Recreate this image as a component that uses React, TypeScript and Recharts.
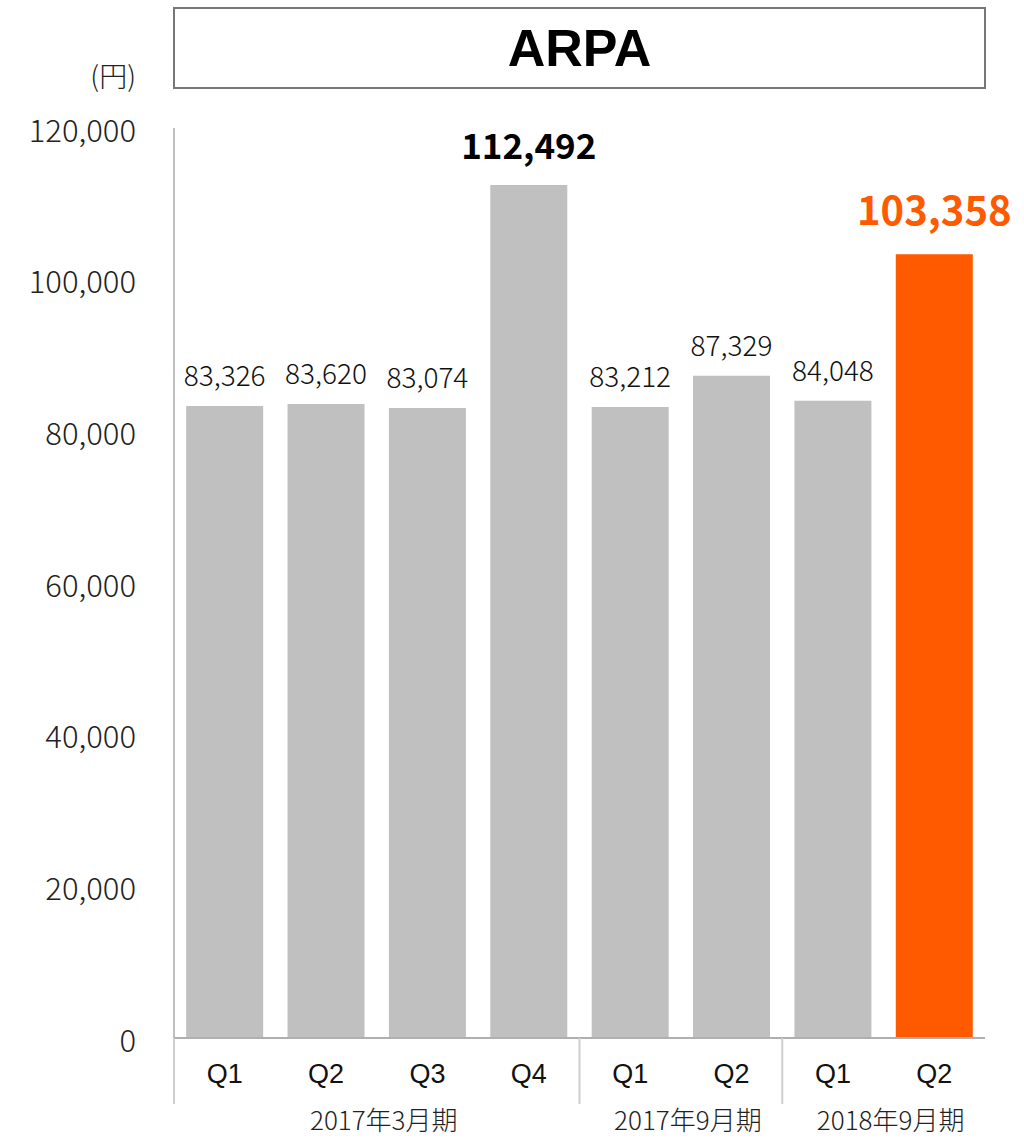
import React from 'react'
import { BarChart, Bar, XAxis, YAxis, Cell, LabelList } from 'recharts'

const quarters = ['Q1', 'Q2', 'Q3', 'Q4', 'Q1', 'Q2', 'Q1', 'Q2']
const periods = [
  '2017年3月期',
  '2017年3月期',
  '2017年3月期',
  '2017年3月期',
  '2017年9月期',
  '2017年9月期',
  '2018年9月期',
  '2018年9月期',
]
const arpa = [83326, 83620, 83074, 112492, 83212, 87329, 84048, 103358]
const yTicks = [0, 20000, 40000, 60000, 80000, 100000, 120000]

const data = quarters.map((q, i) => ({ q, period: periods[i], v: arpa[i] }))

const W = 1024
const H = 1138
const PLOT_LEFT = 174
const PLOT_RIGHT = 985
const BAND = (PLOT_RIGHT - PLOT_LEFT) / quarters.length

const GRAY = '#c0c0c0'
const ORANGE = '#ff5a00'
const JP = '"Noto Sans CJK JP", "Noto Sans", sans-serif'

const BOLD_IDX = 3
const HIGHLIGHT_IDX = 7

const fmt = (n: number) => n.toLocaleString('en-US')

function YTick(props: any) {
  const { y, payload } = props
  return (
    <text
      x={PLOT_LEFT - 38}
      y={y}
      textAnchor="end"
      dominantBaseline="central"
      fontFamily={JP}
      fontSize={31}
      fontWeight={300}
      fill="#222"
    >
      {fmt(payload.value)}
    </text>
  )
}

function XTick(props: any) {
  const { x, y, index, payload } = props
  const i = index as number
  const first = i === 0 || periods[i] !== periods[i - 1]
  let count = 0
  if (first) {
    while (i + count < periods.length && periods[i + count] === periods[i]) count++
  }
  return (
    <g>
      <text
        x={x}
        y={y + 45}
        textAnchor="middle"
        fontFamily='"Liberation Sans", Arial, sans-serif'
        fontSize={27}
        fill="#111"
      >
        {payload.value}
      </text>
      {first && (
        <>
          <line
            x1={x - BAND / 2}
            x2={x - BAND / 2}
            y1={y}
            y2={y + 66}
            stroke="#cfcfcf"
            strokeWidth={2}
          />
          <text
            x={x + ((count - 1) * BAND) / 2 + 7}
            y={y + 92}
            textAnchor="middle"
            fontFamily={JP}
            fontSize={26}
            fontWeight={300}
            fill="#222"
          >
            {periods[i]}
          </text>
        </>
      )}
    </g>
  )
}

function ValueLabel(props: any) {
  const { x, y, width, value, index } = props
  const cx = x + width / 2
  if (index === HIGHLIGHT_IDX) {
    return (
      <text x={cx} y={y - 29} textAnchor="middle" fontFamily={JP} fontSize={40} fontWeight={700} fill={ORANGE}>
        {fmt(value)}
      </text>
    )
  }
  if (index === BOLD_IDX) {
    return (
      <text x={cx} y={y - 26} textAnchor="middle" fontFamily={JP} fontSize={35} fontWeight={700} fill="#000">
        {fmt(value)}
      </text>
    )
  }
  return (
    <text x={cx} y={y - 20} textAnchor="middle" fontFamily={JP} fontSize={28} fontWeight={300} fill="#111">
      {fmt(value)}
    </text>
  )
}

export default function App() {
  return (
    <div style={{ position: 'absolute', left: 0, top: 0, width: W, height: H, background: '#fff' }}>
      <div
        style={{
          position: 'absolute',
          left: PLOT_LEFT - 1,
          top: 7,
          width: PLOT_RIGHT - PLOT_LEFT + 2,
          height: 82,
          boxSizing: 'border-box',
          border: '2px solid #777',
          display: 'flex',
          alignItems: 'center',
          justifyContent: 'center',
          fontFamily: '"Liberation Sans", Arial, sans-serif',
          fontWeight: 700,
          fontSize: 52,
          color: '#000',
        }}
      >
        ARPA
      </div>
      <div
        style={{
          position: 'absolute',
          right: W - 136,
          top: 56,
          fontFamily: JP,
          fontSize: 28,
          fontWeight: 300,
          color: '#222',
          lineHeight: '38px',
        }}
      >
        (円)
      </div>
      <BarChart
        width={W}
        height={H}
        data={data}
        margin={{ top: 128, right: W - PLOT_RIGHT, bottom: 0, left: 0 }}
        barCategoryGap="12%"
      >
        <YAxis
          width={PLOT_LEFT}
          domain={[0, 120000]}
          ticks={yTicks}
          interval={0}
          axisLine={{ stroke: '#bfbfbf', strokeWidth: 2 }}
          tickLine={false}
          tick={<YTick />}
        />
        <XAxis
          dataKey="q"
          height={100}
          interval={0}
          tickLine={false}
          tickSize={0}
          tickMargin={0}
          axisLine={{ stroke: '#b0b0b0', strokeWidth: 2 }}
          tick={<XTick />}
        />
        <Bar dataKey="v" isAnimationActive={false}>
          {data.map((d, i) => (
            <Cell key={i} fill={i === HIGHLIGHT_IDX ? ORANGE : GRAY} />
          ))}
          <LabelList dataKey="v" content={<ValueLabel />} />
        </Bar>
      </BarChart>
    </div>
  )
}
